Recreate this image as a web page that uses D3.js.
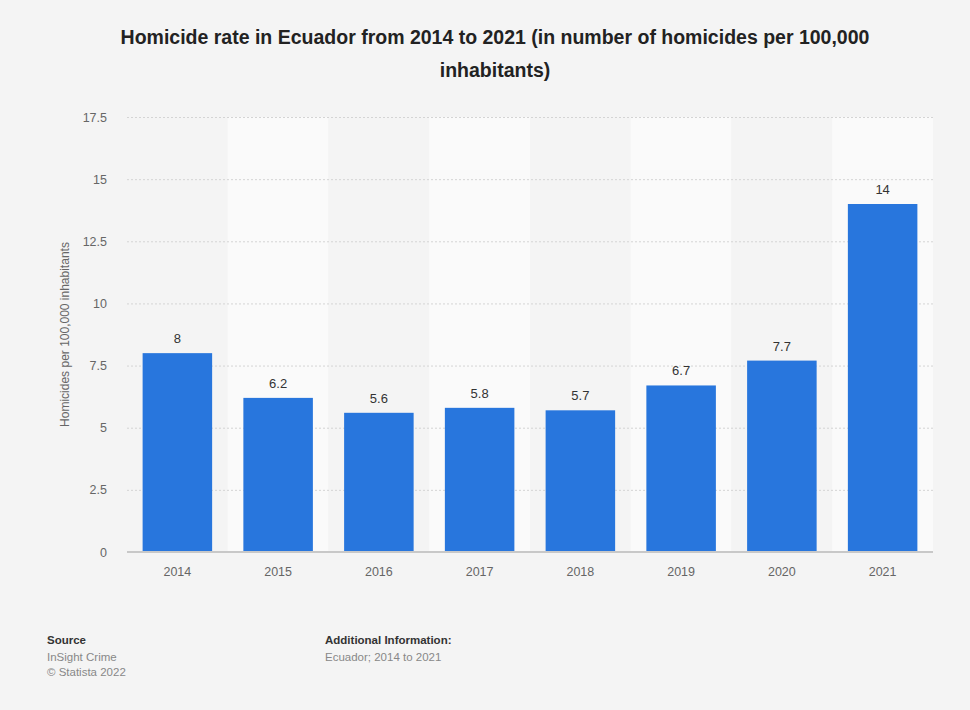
<!DOCTYPE html>
<html>
<head>
<meta charset="utf-8">
<script src="https://cdn.jsdelivr.net/npm/d3@7"></script>
<style>
  body { margin: 0; background: #f4f4f4; font-family: "Liberation Sans", Arial, sans-serif; }
  .tick text { fill: #666; font-size: 12.5px; }
  .grid line { stroke: #d4d4d4; stroke-dasharray: 2,2; }
  .value-label { fill: #333; font-size: 13px; }
  .foot { font-size: 11.5px; fill: #888; }
  .foot-b { font-size: 11.5px; fill: #333; font-weight: bold; }
</style>
</head>
<body>
<div id="graph"></div>
<script>
// Data
const years = ['2014','2015','2016','2017','2018','2019','2020','2021']
const rates = [8, 6.2, 5.6, 5.8, 5.7, 6.7, 7.7, 14]
const yTicks = [0, 2.5, 5, 7.5, 10, 12.5, 15, 17.5]

const width = 970
const height = 710
const margin = { top: 117, right: 37, bottom: 158, left: 127 }

const svg = d3.select('#graph')
              .append('svg')
              .attr('width', width)
              .attr('height', height)

// Scales
const xScale = d3.scaleBand()
                 .domain(years)
                 .range([margin.left, width - margin.right])
                 .paddingInner(0.31)
                 .paddingOuter(0.155)
const yScale = d3.scaleLinear()
                 .domain([0, 17.5])
                 .range([height - margin.bottom, margin.top])

// Alternating column bands
const step = xScale.step()
svg.selectAll('rect.band')
   .data(years)
   .enter()
   .append('rect')
   .attr('class', 'band')
   .attr('x', d => xScale(d) - step * xScale.paddingInner() / 2)
   .attr('y', yScale(17.5))
   .attr('width', step)
   .attr('height', yScale(0) - yScale(17.5))
   .attr('fill', (d, i) => i % 2 ? '#fafafa' : '#f4f4f4')

// Grid
const yGrid = d3.axisLeft(yScale).tickValues(yTicks.slice(1))
                .tickSize(-(width - margin.left - margin.right)).tickFormat('')
svg.append('g')
   .attr('class', 'grid')
   .attr('transform', `translate(${margin.left},0)`)
   .call(yGrid)
   .call(g => g.select('.domain').remove())

// Bars
svg.selectAll('rect.bar')
   .data(rates)
   .enter()
   .append('rect')
   .attr('class', 'bar')
   .attr('x', (d, i) => xScale(years[i]))
   .attr('y', d => yScale(d))
   .attr('width', xScale.bandwidth())
   .attr('height', d => yScale(0) - yScale(d))
   .attr('fill', '#2876dd')

// Value labels
svg.selectAll('text.value-label')
   .data(rates)
   .enter()
   .append('text')
   .attr('class', 'value-label')
   .attr('text-anchor', 'middle')
   .attr('x', (d, i) => xScale(years[i]) + xScale.bandwidth() / 2)
   .attr('y', d => yScale(d) - 10)
   .text(d => d)

// Baseline
svg.append('line')
   .attr('x1', margin.left)
   .attr('x2', width - margin.right)
   .attr('y1', yScale(0))
   .attr('y2', yScale(0))
   .attr('stroke', '#c8c8c8')
   .attr('stroke-width', 2)

// Axes
const xAxis = d3.axisBottom(xScale).tickSize(0).tickPadding(15)
svg.append('g')
   .attr('transform', `translate(0,${yScale(0)})`)
   .call(xAxis)
   .call(g => g.select('.domain').remove())

const yAxis = d3.axisLeft(yScale).tickValues(yTicks).tickSize(0).tickPadding(20)
                .tickFormat(d => d)
svg.append('g')
   .attr('transform', `translate(${margin.left},0)`)
   .call(yAxis)
   .call(g => g.select('.domain').remove())

// Y axis label
svg.append('text')
   .attr('transform', `translate(69,${(yScale(0) + yScale(17.5)) / 2}) rotate(-90)`)
   .attr('text-anchor', 'middle')
   .attr('font-size', 12)
   .attr('fill', '#666')
   .text('Homicides per 100,000 inhabitants')

// Title
const title = ['Homicide rate in Ecuador from 2014 to 2021 (in number of homicides per 100,000', 'inhabitants)']
svg.selectAll('text.title')
   .data(title)
   .enter()
   .append('text')
   .attr('class', 'title')
   .attr('text-anchor', 'middle')
   .attr('x', 495)
   .attr('y', (d, i) => 44 + i * 33)
   .attr('font-size', 19.5)
   .attr('font-weight', 'bold')
   .attr('fill', '#222')
   .text(d => d)

// Footer
svg.append('text').attr('class', 'foot-b').attr('x', 47).attr('y', 644).text('Source')
svg.append('text').attr('class', 'foot').attr('x', 47).attr('y', 661).text('InSight Crime')
svg.append('text').attr('class', 'foot').attr('x', 47).attr('y', 676).text('© Statista 2022')
svg.append('text').attr('class', 'foot-b').attr('x', 325).attr('y', 644).text('Additional Information:')
svg.append('text').attr('class', 'foot').attr('x', 325).attr('y', 661).text('Ecuador; 2014 to 2021')
</script>
</body>
</html>
